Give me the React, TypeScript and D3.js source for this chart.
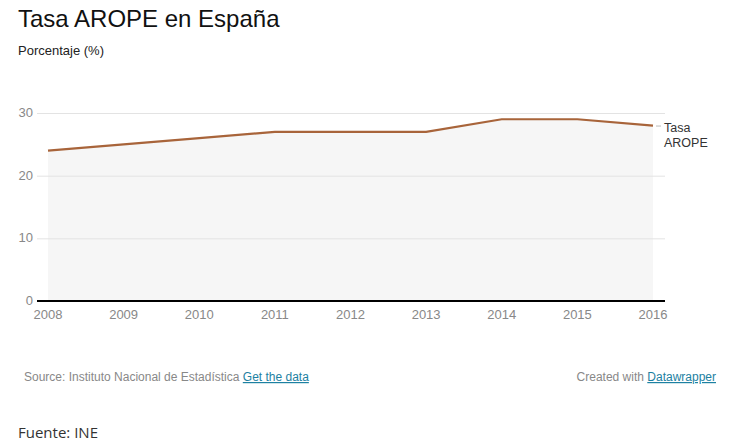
import React from "react";
import * as d3 from "d3";

const years = [2008, 2009, 2010, 2011, 2012, 2013, 2014, 2015, 2016];
const arope = [24, 25, 26, 27, 27, 27, 29, 29, 28];
const yTicks = [0, 10, 20, 30];
const seriesLabel = ["Tasa", "AROPE"];

const W = 730;
const H = 443;
const FONT = "Arial, 'Liberation Sans', Helvetica, sans-serif";

export default function App() {
  const x = d3.scaleLinear().domain([2008, 2016]).range([48, 653]);
  const y = d3.scaleLinear().domain([0, 30]).range([301, 113]);
  const data = years.map((yr, i) => ({ yr, v: arope[i] }));
  const line = d3
    .line<{ yr: number; v: number }>()
    .x((d) => x(d.yr))
    .y((d) => y(d.v));
  const area = d3
    .area<{ yr: number; v: number }>()
    .x((d) => x(d.yr))
    .y0(y(0))
    .y1((d) => y(d.v));
  const last = data[data.length - 1];
  const gridX0 = 37;
  const gridX1 = 665;

  return (
    <svg
      width={W}
      height={H}
      style={{ position: "absolute", left: 0, top: 0, background: "#fff" }}
      fontFamily={FONT}
    >
      <rect x={0} y={0} width={W} height={H} fill="#fff" />
      <text x={18} y={27} fontSize={24} fill="#111">
        Tasa AROPE en España
      </text>
      <text x={18} y={55} fontSize={13} fill="#222">
        Porcentaje (%)
      </text>

      <path d={area(data) || ""} fill="#f6f6f6" />
      {yTicks.map((t) => (
        <g key={t}>
          {t !== 0 && (
            <line
              x1={gridX0}
              x2={gridX1}
              y1={y(t) + 0.5}
              y2={y(t) + 0.5}
              stroke="#e3e3e3"
              strokeWidth={1}
            />
          )}
          <text
            x={33}
            y={y(t) + 4}
            fontSize={13}
            fill="#888"
            textAnchor="end"
          >
            {t}
          </text>
        </g>
      ))}
      <path d={line(data) || ""} fill="none" stroke="#a8643a" strokeWidth={2.2} />
      <line x1={gridX0} x2={gridX1} y1={y(0)} y2={y(0)} stroke="#000" strokeWidth={2} />
      {years.map((yr) => (
        <text
          key={yr}
          x={x(yr)}
          y={319}
          fontSize={13}
          fill="#888"
          textAnchor="middle"
        >
          {yr}
        </text>
      ))}

      <line
        x1={x(last.yr) + 3}
        x2={x(last.yr) + 8}
        y1={y(last.v) + 0.5}
        y2={y(last.v) + 0.5}
        stroke="#bbb"
        strokeWidth={1}
      />
      {seriesLabel.map((s, i) => (
        <text key={s} x={664} y={132 + i * 15} fontSize={12.5} fill="#333">
          {s}
        </text>
      ))}

      <text x={24} y={381} fontSize={12} fill="#888">
        Source: Instituto Nacional de Estadística{" "}
        <tspan fill="#1d81a2" textDecoration="underline">
          Get the data
        </tspan>
      </text>
      <text x={716} y={381} fontSize={12} fill="#888" textAnchor="end">
        Created with{" "}
        <tspan fill="#1d81a2" textDecoration="underline">
          Datawrapper
        </tspan>
      </text>

      <text x={18} y={438} fontSize={15} fill="#333" fontFamily="'Open Sans', 'Noto Sans', sans-serif">
        Fuente: INE
      </text>
    </svg>
  );
}
